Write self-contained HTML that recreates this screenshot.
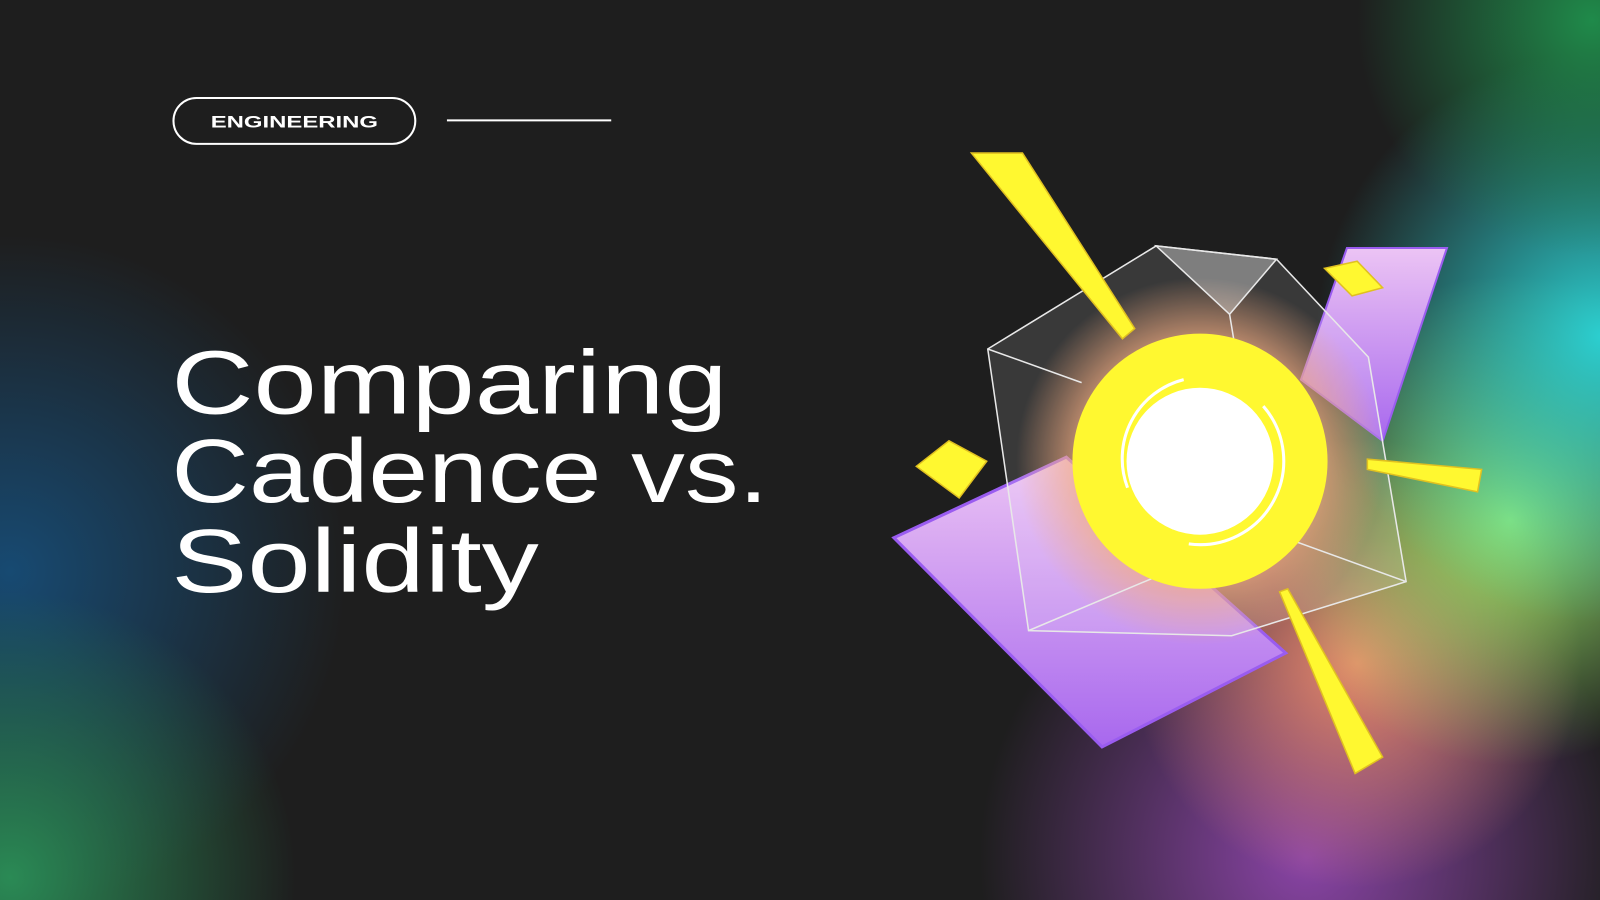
<!DOCTYPE html>
<html><head><meta charset="utf-8"><style>
html,body{margin:0;padding:0;background:#1e1e1e;overflow:hidden}
svg{display:block}
</style></head><body>
<svg width="1600" height="900" viewBox="0 0 1568 882" preserveAspectRatio="none" xmlns="http://www.w3.org/2000/svg">
<defs>
<radialGradient id="gGreenTR" cx="1560" cy="20" r="230" gradientUnits="userSpaceOnUse"><stop offset="0" stop-color="#1f8a4a"/><stop offset="1" stop-color="#1f8a4a" stop-opacity="0"/></radialGradient>
<radialGradient id="gCyan" cx="1570" cy="330" r="280" gradientUnits="userSpaceOnUse"><stop offset="0" stop-color="#2ccfd0"/><stop offset="1" stop-color="#2ccfd0" stop-opacity="0"/></radialGradient>
<radialGradient id="gLime" cx="1480" cy="510" r="240" gradientUnits="userSpaceOnUse"><stop offset="0" stop-color="#9ae66a"/><stop offset="1" stop-color="#9ae66a" stop-opacity="0"/></radialGradient>
<radialGradient id="gOrange" cx="1330" cy="650" r="220" gradientUnits="userSpaceOnUse"><stop offset="0" stop-color="#e98a6a"/><stop offset="1" stop-color="#e98a6a" stop-opacity="0"/></radialGradient>
<radialGradient id="gPurple" cx="1280" cy="840" r="320" gradientUnits="userSpaceOnUse"><stop offset="0" stop-color="#8a44a6"/><stop offset="1" stop-color="#8a44a6" stop-opacity="0"/></radialGradient>
<radialGradient id="gBlue" cx="10" cy="560" r="330" gradientUnits="userSpaceOnUse"><stop offset="0" stop-color="#174a72"/><stop offset="1" stop-color="#174a72" stop-opacity="0"/></radialGradient>
<radialGradient id="gGreenBL" cx="10" cy="860" r="280" gradientUnits="userSpaceOnUse"><stop offset="0" stop-color="#2a8a55"/><stop offset="1" stop-color="#2a8a55" stop-opacity="0"/></radialGradient>
<radialGradient id="gGlow" cx="1176" cy="452" r="180" gradientUnits="userSpaceOnUse"><stop offset="0.65" stop-color="#f0a070" stop-opacity="0.75"/><stop offset="1" stop-color="#f0a070" stop-opacity="0"/></radialGradient>
<linearGradient id="gLav" x1="0" y1="0" x2="0" y2="1"><stop offset="0" stop-color="#ecc4f4"/><stop offset="1" stop-color="#a868ee"/></linearGradient>
</defs>
<rect width="1568" height="882" fill="#1e1e1e"/>
<rect width="1568" height="882" fill="url(#gBlue)"/>
<rect width="1568" height="882" fill="url(#gGreenBL)"/>
<rect width="1568" height="882" fill="url(#gPurple)"/>
<rect width="1568" height="882" fill="url(#gOrange)"/>
<rect width="1568" height="882" fill="url(#gLime)"/>
<rect width="1568" height="882" fill="url(#gCyan)"/>
<rect width="1568" height="882" fill="url(#gGreenTR)"/>

<g>
<rect x="170" y="96" width="237" height="45" rx="22.5" fill="none" stroke="#fff" stroke-width="2"/>
<text x="288.5" y="125" text-anchor="middle" fill="#fff" font-family="Liberation Sans, sans-serif" font-weight="bold" font-size="16" textLength="164" lengthAdjust="spacingAndGlyphs">ENGINEERING</text>
</g>
<line x1="438" y1="118" x2="599" y2="118" stroke="#fff" stroke-width="2"/>

<g fill="#fff" font-family="Liberation Sans, sans-serif" font-size="88">
<text x="168" y="405" textLength="545" lengthAdjust="spacingAndGlyphs">Comparing</text>
<text x="168" y="492" textLength="585" lengthAdjust="spacingAndGlyphs">Cadence vs.</text>
<text x="168" y="580" textLength="360" lengthAdjust="spacingAndGlyphs">Solidity</text>
</g>

<g>
<polygon points="1320,243 1418,243 1355,432 1275,372" fill="url(#gLav)" stroke="#9a5cf0" stroke-width="2"/>
<polygon points="876,527 1045,448 1260,640 1080,732" fill="url(#gLav)" stroke="#9a5cf0" stroke-width="3"/>
<circle cx="1176" cy="452" r="180" fill="url(#gGlow)"/>
<polygon points="968,342 1133,241 1251,254 1341,350 1378,570 1207,623 1008,618" fill="#ffffff" fill-opacity="0.12" stroke="#e8e8e8" stroke-width="1.5"/>
<polygon points="1133,241 1251,254 1205,308" fill="#ffffff" fill-opacity="0.35" stroke="#e8e8e8" stroke-width="1.5"/>
<polyline points="968,342 1060,375" fill="none" stroke="#e8e8e8" stroke-width="1.5"/>
<polyline points="1205,308 1240,520 1378,570" fill="none" stroke="#e8e8e8" stroke-width="1.5"/>
<polyline points="1240,520 1008,618" fill="none" stroke="#e8e8e8" stroke-width="1.5"/>
<circle cx="1176" cy="452" r="125" fill="#fff830"/>
<circle cx="1176" cy="452" r="72" fill="#ffffff"/>
<path d="M1160,372 A80,80 0 0 0 1105,478" fill="none" stroke="#fff" stroke-width="3"/>
<path d="M1238,398 A82,82 0 0 1 1165,533" fill="none" stroke="#fff" stroke-width="3"/>
<g fill="#fff830" stroke="#e0c020" stroke-width="1.5">
<polygon points="952,150 1002,150 1112,322 1100,332"/>
<polygon points="1298,263 1330,256 1355,282 1325,290"/>
<polygon points="898,457 930,432 967,452 940,488"/>
<polygon points="1340,450 1452,460 1448,482 1340,460"/>
<polygon points="1254,580 1262,577 1355,742 1328,758"/>
</g>
</g>
</svg>
</body></html>
